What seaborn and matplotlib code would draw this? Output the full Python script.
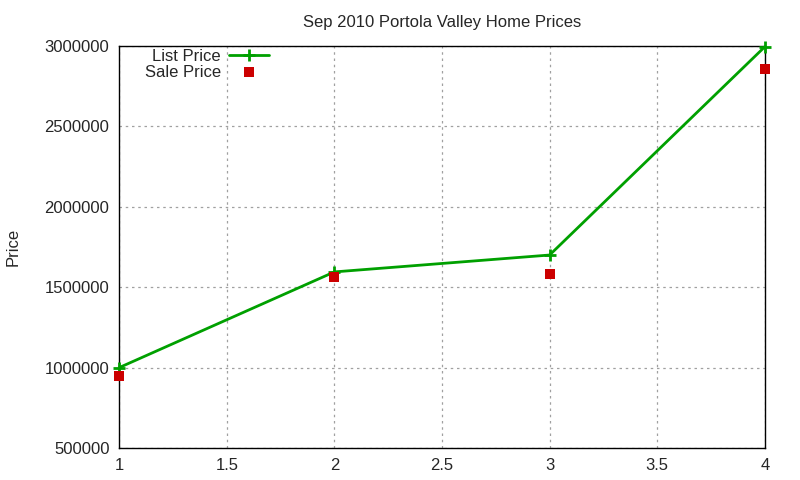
import matplotlib
matplotlib.use("Agg")
import matplotlib.pyplot as plt
import pandas as pd
import seaborn as sns

# Data
house = [1, 2, 3, 4]
list_price = [1000000, 1595000, 1700000, 2995000]
sale_price = [950000, 1565000, 1585000, 2855000]

df = pd.DataFrame({"house": house, "list": list_price, "sale": sale_price})

sns.set_style("white")
plt.rcParams["font.family"] = ["Liberation Sans", "DejaVu Sans"]

fig = plt.figure(figsize=(8, 4.8), dpi=100)
ax = fig.add_axes([0.149, 0.0667, 0.807, 0.8375])

sns.lineplot(data=df, x="house", y="list", ax=ax, color="#00a000", linewidth=2,
             marker="+", markersize=8, markeredgewidth=2,
             markeredgecolor="#00a000", label="List Price", clip_on=False, zorder=3)
sns.scatterplot(data=df, x="house", y="sale", ax=ax, color="#cc0000", marker="s",
                s=60, linewidth=0, label="Sale Price", clip_on=False, zorder=4)

ax.set_xlim(1, 4)
ax.set_ylim(500000, 3000000)
ax.set_xticks([1, 1.5, 2, 2.5, 3, 3.5, 4])
ax.set_xticklabels(["1", "1.5", "2", "2.5", "3", "3.5", "4"])
ax.set_yticks(range(500000, 3000001, 500000))
ax.set_yticklabels([str(v) for v in range(500000, 3000001, 500000)])
ax.tick_params(labelsize=12, length=0, pad=7)
ax.grid(True, color="#a0a0a0", linestyle=(0, (2, 3)), linewidth=0.9)
for s in ax.spines.values():
    s.set_color("black")
    s.set_linewidth(1)

ax.set_title("Sep 2010 Portola Valley Home Prices", fontsize=12, pad=14)
ax.set_xlabel("")
ax.set_ylabel("Price", fontsize=12, labelpad=17)

ax.legend(loc="upper left", bbox_to_anchor=(145 / 800, 1 - 49 / 480),
          bbox_transform=fig.transFigure, frameon=False, markerfirst=False,
          fontsize=12, handlelength=2.4, handletextpad=0.45, labelspacing=0.05,
          borderpad=0, borderaxespad=0)

fig.savefig("out.png", dpi=100)
